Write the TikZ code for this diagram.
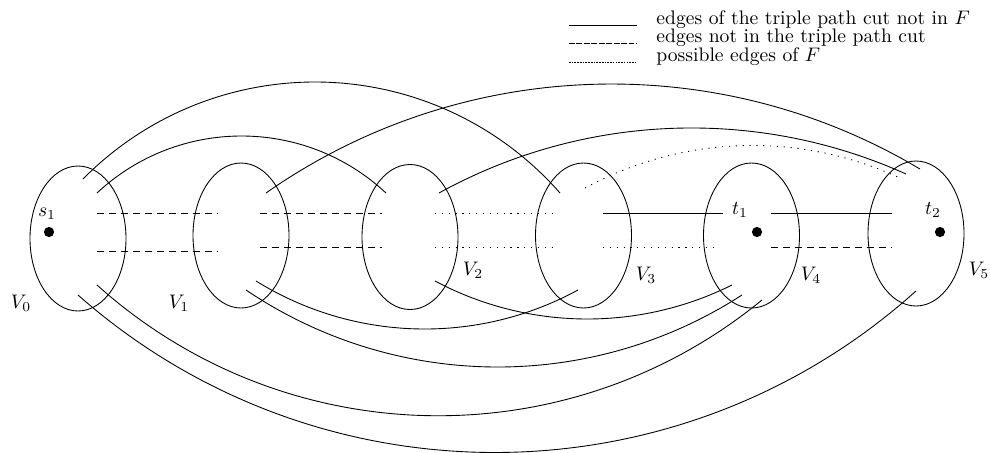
\documentclass[tikz,border=0pt]{standalone}
\usetikzlibrary{shapes.geometric}
\newcommand\tparc[7][]{%
 \edef\pAx{#2}\edef\pAy{\fpeval{-(#3)}}%
 \edef\pBx{#4}\edef\pBy{\fpeval{-(#5)}}%
 \edef\pCx{#6}\edef\pCy{\fpeval{-(#7)}}%
 \edef\pD{\fpeval{2*((\pAx)*((\pBy)-(\pCy))+(\pBx)*((\pCy)-(\pAy))+(\pCx)*((\pAy)-(\pBy)))}}%
 \edef\pUx{\fpeval{(((\pAx)**2+(\pAy)**2)*((\pBy)-(\pCy))+((\pBx)**2+(\pBy)**2)*((\pCy)-(\pAy))+((\pCx)**2+(\pCy)**2)*((\pAy)-(\pBy)))/(\pD)}}%
 \edef\pUy{\fpeval{(((\pAx)**2+(\pAy)**2)*((\pCx)-(\pBx))+((\pBx)**2+(\pBy)**2)*((\pAx)-(\pCx))+((\pCx)**2+(\pCy)**2)*((\pBx)-(\pAx)))/(\pD)}}%
 \edef\pR{\fpeval{round(sqrt(((\pAx)-(\pUx))**2+((\pAy)-(\pUy))**2)*0.51,4)}}%
 \edef\pSa{\fpeval{round(atand((\pAy)-(\pUy),(\pAx)-(\pUx)),4)}}%
 \edef\pEa{\fpeval{round(atand((\pCy)-(\pUy),(\pCx)-(\pUx)),4)}}%
 \draw[#1] (#2,#3) arc[start angle=\pSa, end angle=\pEa, radius=\pR pt];%
}
\begin{document}
\begin{tikzpicture}[x=0.51pt, y=-0.51pt, line width=0.45pt,
  vset/.style={ellipse, draw, inner sep=0pt, minimum width=48.96pt, minimum height=73.95pt},
  vdot/.style={circle, fill, inner sep=0pt, minimum size=5.2pt},
  cutedge/.style={},
  nocut/.style={dash pattern=on 3.7pt off 2.4pt},
  maybeF/.style={dash pattern=on 0.6pt off 2.9pt},
  lbl/.style={inner sep=0pt},
  legtext/.style={anchor=base west, inner sep=0pt}]
\useasboundingbox (0,0) rectangle (990,452);

% legend
\coordinate (l1a) at (569,25); \coordinate (l1b) at (637,25);
\coordinate (l2a) at (569,43.5); \coordinate (l2b) at (637,43.5);
\coordinate (l3a) at (569,62); \coordinate (l3b) at (637,62);
\draw[cutedge] (l1a) -- (l1b);
\draw[dash pattern=on 3pt off 0.8pt] (l2a) -- (l2b);
\draw[dash pattern=on 0.8pt off 0.6pt] (l3a) -- (l3b);
\node[legtext] (t1) at (656,24.5) {edges of the triple path cut not in $F$};
\node[legtext] (t2) at (656,42.5) {edges not in the triple path cut};
\node[legtext] (t3) at (656,61) {possible edges of $F$};

% sets
\node[vset] (V0) at (78,238.5) {};
\node[vset] (V1) at (241,235.5) {};
\node[vset] (V2) at (410,237) {};
\node[vset] (V3) at (583.5,235.5) {};
\node[vset] (V4) at (751.5,235.5) {};
\node[vset] (V5) at (916,233.5) {};

\node[lbl] (V0l) at (21,303) {$V_0$};
\node[lbl] (V1l) at (179,303) {$V_1$};
\node[lbl] (V2l) at (473,270) {$V_2$};
\node[lbl] (V3l) at (646,275) {$V_3$};
\node[lbl] (V4l) at (811,275) {$V_4$};
\node[lbl] (V5l) at (979,270) {$V_5$};

% terminals
\node[vdot] (s1dot) at (49,232) {};
\node[vdot] (t1dot) at (757,232) {};
\node[vdot] (t2dot) at (940,232) {};
\node[lbl] (s1) at (47,214) {$s_1$};
\node[lbl] (t1l) at (740,210) {$t_1$};
\node[lbl] (t2l) at (933,210) {$t_2$};

% straight edges
\coordinate (a01) at (97,213); \coordinate (b01) at (218,213);
\coordinate (c01) at (97,251.5); \coordinate (d01) at (218,251.5);
\draw[nocut] (a01) -- (b01);
\draw[nocut] (c01) -- (d01);
\coordinate (a12) at (260,213); \coordinate (b12) at (382,213);
\coordinate (c12) at (260,247); \coordinate (d12) at (382,247);
\draw[nocut] (a12) -- (b12);
\draw[nocut] (c12) -- (d12);
\coordinate (a23) at (435,213); \coordinate (b23) at (553,213);
\coordinate (c23) at (435,247); \coordinate (d23) at (553,247);
\draw[maybeF] (a23) -- (b23);
\draw[maybeF] (c23) -- (d23);
\coordinate (a34) at (603,213); \coordinate (b34) at (723,213);
\coordinate (c34) at (603,247); \coordinate (d34) at (718,247);
\draw[cutedge] (a34) -- (b34);
\draw[maybeF] (c34) -- (d34);
\coordinate (a45) at (771,213); \coordinate (b45) at (892,213);
\coordinate (c45) at (771,247); \coordinate (d45) at (892,247);
\draw[cutedge] (a45) -- (b45);
\draw[nocut] (c45) -- (d45);

% upper arcs
\tparc{83}{179}{313}{82}{560}{193}
\tparc{97}{193}{243}{136}{386}{193}
\tparc{266}{193}{615}{84}{920}{169}
\tparc{439}{193}{697}{128}{906}{174}
\tparc[maybeF]{585}{188}{733}{146}{902}{179}

% lower arcs
\tparc{78}{295}{495}{452.5}{916}{291}
\tparc{97}{285}{500}{412}{762}{300}
\tparc{246}{290}{500}{367}{742}{295}
\tparc{256}{281}{427}{329}{578}{290}
\tparc{435}{281}{590}{319}{732}{285}
\end{tikzpicture}
\end{document}
